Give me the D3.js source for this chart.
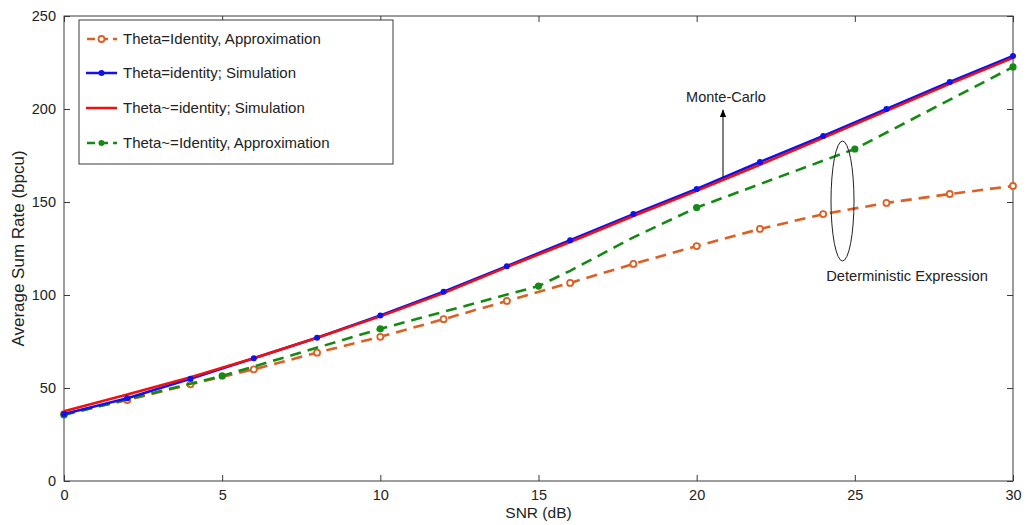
<!DOCTYPE html>
<html><head><meta charset="utf-8">
<script src="https://cdn.jsdelivr.net/npm/d3@7"></script>
<style>
body{margin:0;background:#fff;}
svg{display:block;font-family:"Liberation Sans",Arial,Helvetica,sans-serif;}
</style></head>
<body><svg id="c" width="1026" height="525"></svg>
<script>
// ---- data ----
const snrSim = [0,2,4,6,8,10,12,14,16,18,20,22,24,26,28,30];
const thetaIdSim = [36,44.5,55,66,77,89,101.8,115.5,129.5,143.5,157,171.5,185.5,200,214.5,228.5];
const thetaNotIdSim = [37.5,46.5,55.8,66,77,88.5,101,115,128.5,142.5,156,170,184.5,199,213.5,227.5];
const thetaIdApprox = [36,43.5,52,60,69,77.5,87,96.8,106.5,116.7,126.3,135.5,143.5,149.5,154.3,158.6];
const snrGreen = [0,5,10,15,16,18,20,25,30];
const thetaNotIdApprox = [35.5,56.5,81.8,104.8,113,131,147,178.5,222.6];
const xTicks = [0,5,10,15,20,25,30];
const yTicks = [0,50,100,150,200,250];
const legendLabels = ["Theta=Identity, Approximation","Theta=identity; Simulation","Theta~=identity; Simulation","Theta~=Identity, Approximation"];

const C = {orange:"#DC5F24", blue:"#1010F0", red:"#F01010", green:"#148A14", axis:"#3a3a3a", text:"#222"};

const svg = d3.select("#c");
const L=64, R=1013, T=16, B=481;
const x = d3.scaleLinear().domain([0,30]).range([L,R]);
const y = d3.scaleLinear().domain([0,250]).range([B,T]);

// box
svg.append("rect").attr("x",L).attr("y",T).attr("width",R-L).attr("height",B-T)
  .attr("fill","none").attr("stroke",C.axis).attr("stroke-width",1);

// axes
const fs = 14.5;
svg.append("g").attr("transform",`translate(0,${B})`)
  .call(d3.axisBottom(x).tickValues(xTicks).tickSize(-6).tickPadding(9).tickSizeOuter(0));
svg.append("g").attr("transform",`translate(${L},0)`)
  .call(d3.axisLeft(y).tickValues(yTicks).tickSize(-6).tickPadding(8).tickSizeOuter(0));
// mirrored ticks top/right
svg.append("g").attr("transform",`translate(0,${T})`)
  .call(d3.axisTop(x).tickValues(xTicks).tickSize(-6).tickFormat("").tickSizeOuter(0));
svg.append("g").attr("transform",`translate(${R},0)`)
  .call(d3.axisRight(y).tickValues(yTicks).tickSize(-6).tickFormat("").tickSizeOuter(0));
svg.selectAll(".domain").remove();
svg.selectAll(".tick line").attr("stroke",C.axis);
svg.selectAll(".tick text").attr("fill",C.text).style("font-size",fs+"px").style("font-family","'Liberation Sans',Arial,sans-serif");

// axis titles
svg.append("text").attr("x",(L+R)/2).attr("y",518).attr("text-anchor","middle")
  .attr("fill",C.text).style("font-size","15.5px").text("SNR (dB)");
svg.append("text").attr("transform",`translate(24,${(T+B)/2}) rotate(-90)`).attr("text-anchor","middle")
  .attr("fill",C.text).style("font-size","17px").text("Average Sum Rate (bpcu)");

const line = d3.line().x(d=>x(d[0])).y(d=>y(d[1]));
const dash = "11,7";

// orange approx
const oData = snrSim.map((s,i)=>[s,thetaIdApprox[i]]);
svg.append("path").datum(oData).attr("d",line).attr("fill","none")
  .attr("stroke",C.orange).attr("stroke-width",2.6).attr("stroke-dasharray",dash);
svg.selectAll(".om").data(oData).join("circle").attr("cx",d=>x(d[0])).attr("cy",d=>y(d[1]))
  .attr("r",3).attr("fill","#fff").attr("stroke",C.orange).attr("stroke-width",1.8);

// green approx
const gData = snrGreen.map((s,i)=>[s,thetaNotIdApprox[i]]);
svg.append("path").datum(gData).attr("d",line).attr("fill","none")
  .attr("stroke",C.green).attr("stroke-width",2.6).attr("stroke-dasharray",dash);
svg.selectAll(".gm").data(gData.filter(d=>d[0]%5===0)).join("circle").attr("cx",d=>x(d[0])).attr("cy",d=>y(d[1]))
  .attr("r",3.6).attr("fill",C.green);

// blue sim
const bData = snrSim.map((s,i)=>[s,thetaIdSim[i]]);
svg.append("path").datum(bData).attr("d",line).attr("fill","none")
  .attr("stroke",C.blue).attr("stroke-width",2.6);
// red sim
const rData = snrSim.map((s,i)=>[s,thetaNotIdSim[i]]);
svg.append("path").datum(rData).attr("d",line).attr("fill","none")
  .attr("stroke",C.red).attr("stroke-width",2.6);
svg.selectAll(".bm").data(bData).join("circle").attr("cx",d=>x(d[0])).attr("cy",d=>y(d[1]))
  .attr("r",3).attr("fill",C.blue);

// annotations
const defs = svg.append("defs");
defs.append("marker").attr("id","ah").attr("viewBox","0 0 10 10").attr("refX",9).attr("refY",5)
  .attr("markerWidth",8).attr("markerHeight",8).attr("orient","auto")
  .append("path").attr("d","M0,1 L10,5 L0,9 Z").attr("fill","#000");
svg.append("line").attr("x1",723).attr("y1",177).attr("x2",723).attr("y2",110)
  .attr("stroke","#000").attr("stroke-width",1).attr("marker-end","url(#ah)");
svg.append("text").attr("x",726).attr("y",102).attr("text-anchor","middle").attr("fill",C.text)
  .style("font-size","14.5px").text("Monte-Carlo");
svg.append("ellipse").attr("cx",842.5).attr("cy",201).attr("rx",11.5).attr("ry",60)
  .attr("fill","none").attr("stroke","#222").attr("stroke-width",1);
svg.append("text").attr("x",907).attr("y",281).attr("text-anchor","middle").attr("fill",C.text)
  .style("font-size","14.7px").text("Deterministic Expression");

// legend
const lg = svg.append("g");
lg.append("rect").attr("x",79).attr("y",20).attr("width",314).attr("height",144)
  .attr("fill","#fff").attr("stroke",C.axis).attr("stroke-width",1);
const rows = [39,73,108,143];
const styles = [
  {c:C.orange,d:dash,m:"open"},
  {c:C.blue,d:null,m:"fill"},
  {c:C.red,d:null,m:null},
  {c:C.green,d:dash,m:"fill"}];
legendLabels.forEach((lab,i)=>{
  const s=styles[i], yy=rows[i];
  const l = lg.append("line").attr("x1",86).attr("x2",117).attr("y1",yy).attr("y2",yy)
    .attr("stroke",s.c).attr("stroke-width",2.5);
  if(s.d) l.attr("stroke-dasharray","8,5").attr("stroke-dashoffset",-1);
  if(s.m==="open") lg.append("circle").attr("cx",101.5).attr("cy",yy).attr("r",3).attr("fill","#fff").attr("stroke",s.c).attr("stroke-width",1.8);
  if(s.m==="fill") lg.append("circle").attr("cx",101.5).attr("cy",yy).attr("r",3).attr("fill",s.c);
  lg.append("text").attr("x",123).attr("y",yy+5).attr("fill",C.text).style("font-size","15px").text(lab);
});
</script></body></html>
